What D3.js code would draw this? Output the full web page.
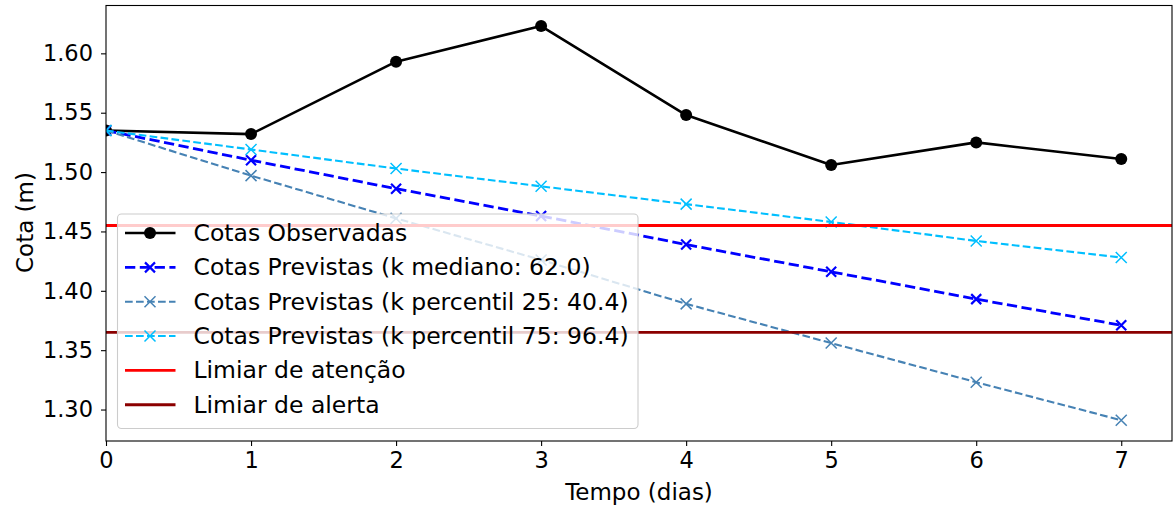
<!DOCTYPE html>
<html>
<head>
<meta charset="utf-8">
<script src="https://cdn.jsdelivr.net/npm/d3@7"></script>
<style>
  html, body { margin: 0; padding: 0; background: #fff; }
  svg { display: block; }
  text { font-family: "DejaVu Sans", sans-serif; fill: #000; }
</style>
</head>
<body>
<svg id="chart" width="1173" height="508"></svg>
<script>
// ---- data ----
const days = [0, 1, 2, 3, 4, 5, 6, 7];
const observed = [1.535, 1.532, 1.593, 1.623, 1.548, 1.506, 1.525, 1.511];
const predMedian = [1.535, 1.510, 1.486, 1.463, 1.439, 1.416, 1.393, 1.371];
const predP25 = [1.535, 1.497, 1.461, 1.426, 1.389, 1.356, 1.323, 1.291];
const predP75 = [1.535, 1.519, 1.503, 1.488, 1.473, 1.458, 1.442, 1.428];
const attentionLevel = 1.455;
const alertLevel = 1.365;
const xTicks = [0, 1, 2, 3, 4, 5, 6, 7];
const yTicks = [1.30, 1.35, 1.40, 1.45, 1.50, 1.55, 1.60];
const legendLabels = [
  "Cotas Observadas",
  "Cotas Previstas (k mediano: 62.0)",
  "Cotas Previstas (k percentil 25: 40.4)",
  "Cotas Previstas (k percentil 75: 96.4)",
  "Limiar de atenção",
  "Limiar de alerta"
];
const xLabel = "Tempo (dias)";
const yLabel = "Cota (m)";

// ---- layout ----
const L = 106, R = 1172, T = 5.5, B = 441;
const FS_TICK = 22.5, FS = 23, FS_LEG = 23.5;
const svg = d3.select("#chart");
const x = d3.scaleLinear().domain([0, 7.35]).range([L, R]);
const y = d3.scaleLinear().domain([1.2735, 1.6403]).range([B, T]);

svg.append("defs").append("clipPath").attr("id", "plotclip")
  .append("rect").attr("x", L).attr("y", T).attr("width", R - L).attr("height", B - T);

const plot = svg.append("g").attr("clip-path", "url(#plotclip)");

const series = [
  { vals: observed, color: "#000000", width: 2.6, dash: null, marker: "circle", msize: 6, mw: 0 },
  { vals: predMedian, color: "#0000ff", width: 2.8, dash: "10.3,4.5", marker: "x", msize: 5, mw: 2.2 },
  { vals: predP25, color: "#4682b4", width: 2.1, dash: "7.7,3.3", marker: "x", msize: 5.5, mw: 1.5 },
  { vals: predP75, color: "#00bfff", width: 2.1, dash: "7.7,3.3", marker: "x", msize: 5.5, mw: 1.5 }
];

const line = d3.line().x((d, i) => x(days[i])).y(d => y(d));

function drawMarker(g, cx, cy, s) {
  if (s.marker === "circle") {
    g.append("circle").attr("cx", cx).attr("cy", cy).attr("r", s.msize).attr("fill", s.color);
  } else {
    const m = s.msize;
    g.append("path")
      .attr("d", `M${cx - m},${cy - m}L${cx + m},${cy + m}M${cx - m},${cy + m}L${cx + m},${cy - m}`)
      .attr("stroke", s.color).attr("stroke-width", s.mw).attr("fill", "none");
  }
}

series.forEach(s => {
  plot.append("path").datum(s.vals)
    .attr("d", line).attr("fill", "none")
    .attr("stroke", s.color).attr("stroke-width", s.width)
    .attr("stroke-dasharray", s.dash)
    .attr("stroke-linejoin", "round");
  const mg = plot.append("g");
  s.vals.forEach((v, i) => drawMarker(mg, x(days[i]), y(v), s));
});

const thresholds = [
  { v: attentionLevel, color: "#ff0000" },
  { v: alertLevel, color: "#8b0000" }
];
thresholds.forEach(t => {
  plot.append("line").attr("x1", L).attr("x2", R)
    .attr("y1", y(t.v)).attr("y2", y(t.v))
    .attr("stroke", t.color).attr("stroke-width", 2.8);
});

// ---- axes ----
const xAxis = d3.axisBottom(x).tickValues(xTicks).tickFormat(d3.format("d")).tickSize(5).tickPadding(6.5);
const yAxis = d3.axisLeft(y).tickValues(yTicks).tickFormat(d3.format(".2f")).tickSize(5).tickPadding(8);

const gx = svg.append("g").attr("transform", `translate(0,${B})`).call(xAxis);
const gy = svg.append("g").attr("transform", `translate(${L},0)`).call(yAxis);
[gx, gy].forEach(g => {
  g.select(".domain").remove();
  g.selectAll(".tick line").attr("stroke", "#000").attr("stroke-width", 1.1);
  g.selectAll(".tick text").attr("font-size", FS_TICK).attr("font-family", "DejaVu Sans").attr("fill", "#000");
});

// spines
svg.append("rect").attr("x", L).attr("y", T).attr("width", R - L).attr("height", B - T)
  .attr("fill", "none").attr("stroke", "#000").attr("stroke-width", 1.1);

// axis labels
svg.append("text").attr("x", (L + R) / 2).attr("y", 499.5).attr("text-anchor", "middle")
  .attr("font-size", FS).text(xLabel);
svg.append("text").attr("transform", `translate(33,222.5) rotate(-90)`)
  .attr("text-anchor", "middle").attr("font-size", FS).text(yLabel);

// ---- legend ----
const lg = svg.append("g");
lg.append("rect").attr("x", 117.5).attr("y", 214).attr("width", 520.5).attr("height", 214.5)
  .attr("rx", 4).attr("fill", "#fff").attr("fill-opacity", 0.8)
  .attr("stroke", "#cccccc").attr("stroke-width", 1.1);

const legendItems = [
  series[0], series[1], series[2], series[3],
  { color: "#ff0000", width: 2.8, dash: null, marker: null },
  { color: "#8b0000", width: 2.8, dash: null, marker: null }
];
legendItems.forEach((s, i) => {
  const base = 241 + i * 34.35;
  const cy = base - 8;
  lg.append("line").attr("x1", 125).attr("x2", 175.5).attr("y1", cy).attr("y2", cy)
    .attr("stroke", s.color).attr("stroke-width", s.width)
    .attr("stroke-dasharray", s.dash);
  if (s.marker) drawMarker(lg, 150, cy, s);
  lg.append("text").attr("x", 193.5).attr("y", base)
    .attr("font-size", FS_LEG).text(legendLabels[i]);
});
</script>
</body>
</html>
